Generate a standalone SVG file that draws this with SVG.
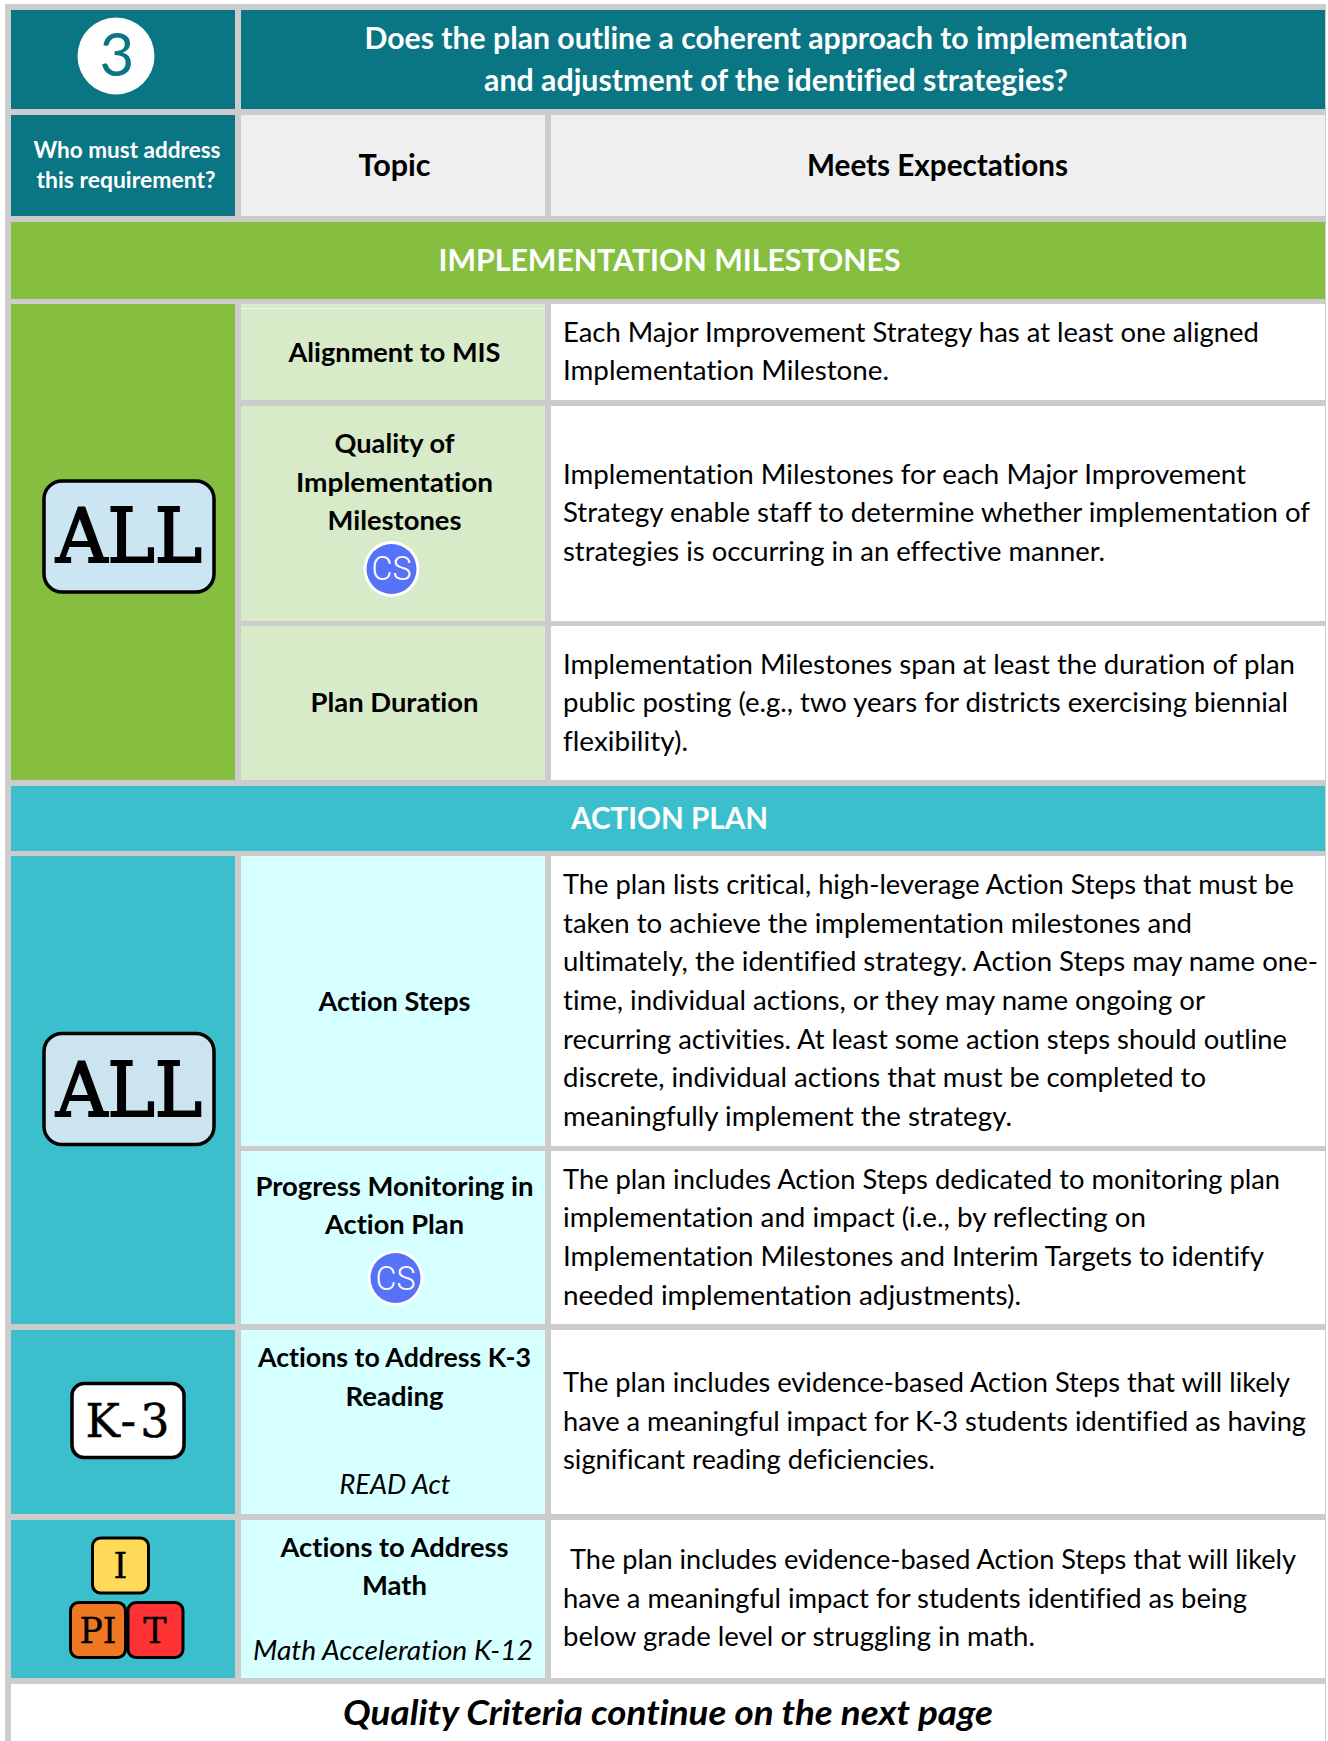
<svg xmlns="http://www.w3.org/2000/svg" width="1328" height="1741" viewBox="0 0 1328 1741">
<style>
text{font-family:"Lato","Liberation Sans",sans-serif;font-variant-ligatures:none;}
.b{font-size:27px;fill:#000}
.h{font-weight:700;text-anchor:middle;fill:#000;font-size:27px}
.w{font-weight:700;text-anchor:middle;fill:#fff}
.i{font-style:italic;text-anchor:middle;font-size:27px;fill:#000}
.s{font-family:"DejaVu Serif","Liberation Serif",serif;text-anchor:middle;fill:#000;stroke:#000}
.tag{stroke:#000;stroke-width:3}
.cs{font-family:"Roboto",sans-serif;fill:#fff;text-anchor:middle;font-size:33px}
</style>
<rect width="1328" height="1741" fill="#fff"/>
<rect x="5" y="4" width="1321" height="1737" fill="#cccccc"/>
<g id="header">
<rect x="11" y="10" width="224" height="99" fill="#0a7583"/>
<rect x="241" y="10" width="1084" height="99" fill="#0a7583"/>
<ellipse cx="116" cy="56" rx="38.500" ry="38.500" fill="#fff"/>
<text x="117" y="76" text-anchor="middle" style="font-size:60px;fill:#0a7583">3</text>
<text class="w" x="776" y="49" style="font-size:30px" textLength="823" lengthAdjust="spacingAndGlyphs">Does the plan outline a coherent approach to implementation</text>
<text class="w" x="776" y="91" style="font-size:30px" textLength="584" lengthAdjust="spacingAndGlyphs">and adjustment of the identified strategies?</text>
</g>
<g id="columns">
<rect x="11" y="115" width="224" height="101" fill="#0a7583"/>
<rect x="241" y="115" width="304" height="101" fill="#efefef"/>
<rect x="551" y="115" width="774" height="101" fill="#efefef"/>
<text class="w" x="127" y="158" style="font-size:22px" textLength="187" lengthAdjust="spacingAndGlyphs">Who must address</text>
<text class="w" x="126" y="188" style="font-size:22px" textLength="179" lengthAdjust="spacingAndGlyphs">this requirement?</text>
<text class="h" x="394.500" y="176" style="font-size:30px" textLength="72" lengthAdjust="spacingAndGlyphs">Topic</text>
<text class="h" x="937.500" y="176" style="font-size:30px" textLength="261" lengthAdjust="spacingAndGlyphs">Meets Expectations</text>
</g>
<g id="band-milestones">
<rect x="11" y="222" width="1314" height="77" fill="#86bf40"/>
<text class="w" x="669.500" y="271" style="font-size:30px" textLength="462" lengthAdjust="spacingAndGlyphs">IMPLEMENTATION MILESTONES</text>
</g>
<g id="who-all-1">
<rect x="11" y="304" width="224" height="476" fill="#86bf40"/>
<rect x="44" y="481" width="170" height="111" rx="18" fill="#cce5f2" stroke="#000" stroke-width="3.500"/>
<text class="s" x="129" y="562" style="font-size:74px;stroke-width:2" textLength="146" lengthAdjust="spacingAndGlyphs">ALL</text>
</g>
<g id="row-alignment">
<rect x="241" y="304" width="304" height="96" fill="#d8ebc9"/>
<rect x="241" y="308" width="304" height="1" fill="#eef7e6"/>
<rect x="551" y="304" width="774" height="96" fill="#fff"/>
<text class="h" x="394.500" y="361.500" textLength="212" lengthAdjust="spacingAndGlyphs">Alignment to MIS</text>
<text class="b" x="563" y="342" textLength="696" lengthAdjust="spacingAndGlyphs">Each Major Improvement Strategy has at least one aligned</text>
<text class="b" x="563" y="380" textLength="326" lengthAdjust="spacingAndGlyphs">Implementation Milestone.</text>
</g>
<g id="row-quality">
<rect x="241" y="406" width="304" height="215" fill="#d8ebc9"/>
<rect x="551" y="406" width="774" height="215" fill="#fff"/>
<text class="h" x="394.500" y="453" textLength="120" lengthAdjust="spacingAndGlyphs">Quality of</text>
<text class="h" x="394.500" y="491.500" textLength="197" lengthAdjust="spacingAndGlyphs">Implementation</text>
<text class="h" x="394.500" y="530" textLength="134" lengthAdjust="spacingAndGlyphs">Milestones</text>
<circle cx="391.500" cy="569" r="28" fill="#fff"/>
<circle cx="391.500" cy="569" r="25" fill="#5572f8"/>
<text class="cs" x="391.500" y="580" textLength="40" lengthAdjust="spacingAndGlyphs" style="font-weight:300">CS</text>
<text class="b" x="563" y="484" textLength="683" lengthAdjust="spacingAndGlyphs">Implementation Milestones for each Major Improvement</text>
<text class="b" x="563" y="522" textLength="747" lengthAdjust="spacingAndGlyphs">Strategy enable staff to determine whether implementation of</text>
<text class="b" x="563" y="561" textLength="542" lengthAdjust="spacingAndGlyphs">strategies is occurring in an effective manner.</text>
</g>
<g id="row-duration">
<rect x="241" y="626" width="304" height="154" fill="#d8ebc9"/>
<rect x="551" y="626" width="774" height="154" fill="#fff"/>
<text class="h" x="394.500" y="712" textLength="168" lengthAdjust="spacingAndGlyphs">Plan Duration</text>
<text class="b" x="563" y="674" textLength="732" lengthAdjust="spacingAndGlyphs">Implementation Milestones span at least the duration of plan</text>
<text class="b" x="563" y="712" textLength="725" lengthAdjust="spacingAndGlyphs">public posting (e.g., two years for districts exercising biennial</text>
<text class="b" x="563" y="751" textLength="125" lengthAdjust="spacingAndGlyphs">flexibility).</text>
</g>
<g id="band-action">
<rect x="11" y="786" width="1314" height="65" fill="#3cbfcc"/>
<text class="w" x="669.500" y="829" style="font-size:30px" textLength="197" lengthAdjust="spacingAndGlyphs">ACTION PLAN</text>
</g>
<g id="who-all-2">
<rect x="11" y="856" width="224" height="468" fill="#3cbfcc"/>
<rect x="44" y="1033.500" width="170" height="111" rx="18" fill="#cce3f0" stroke="#000" stroke-width="3.500"/>
<text class="s" x="129" y="1115.500" style="font-size:74px;stroke-width:2" textLength="146" lengthAdjust="spacingAndGlyphs">ALL</text>
</g>
<g id="row-steps">
<rect x="241" y="856" width="304" height="290" fill="#d6ffff"/>
<rect x="551" y="856" width="774" height="290" fill="#fff"/>
<text class="h" x="394.500" y="1010.500" textLength="152" lengthAdjust="spacingAndGlyphs">Action Steps</text>
<text class="b" x="563" y="894" textLength="731" lengthAdjust="spacingAndGlyphs">The plan lists critical, high-leverage Action Steps that must be</text>
<text class="b" x="563" y="933" textLength="629" lengthAdjust="spacingAndGlyphs">taken to achieve the implementation milestones and</text>
<text class="b" x="563" y="971" textLength="755" lengthAdjust="spacingAndGlyphs">ultimately, the identified strategy. Action Steps may name one-</text>
<text class="b" x="563" y="1010" textLength="642" lengthAdjust="spacingAndGlyphs">time, individual actions, or they may name ongoing or</text>
<text class="b" x="563" y="1049" textLength="724" lengthAdjust="spacingAndGlyphs">recurring activities. At least some action steps should outline</text>
<text class="b" x="563" y="1087" textLength="643" lengthAdjust="spacingAndGlyphs">discrete, individual actions that must be completed to</text>
<text class="b" x="563" y="1126" textLength="449" lengthAdjust="spacingAndGlyphs">meaningfully implement the strategy.</text>
</g>
<g id="row-progress">
<rect x="241" y="1151" width="304" height="173" fill="#d6ffff"/>
<rect x="551" y="1151" width="774" height="173" fill="#fff"/>
<text class="h" x="394.500" y="1195.500" textLength="278" lengthAdjust="spacingAndGlyphs">Progress Monitoring in</text>
<text class="h" x="394.500" y="1234" textLength="139" lengthAdjust="spacingAndGlyphs">Action Plan</text>
<circle cx="395.500" cy="1278" r="28" fill="#fff"/>
<circle cx="395.500" cy="1278" r="25" fill="#5572f8"/>
<text class="cs" x="395.500" y="1290" textLength="40" lengthAdjust="spacingAndGlyphs" style="font-weight:300">CS</text>
<text class="b" x="563" y="1189" textLength="717" lengthAdjust="spacingAndGlyphs">The plan includes Action Steps dedicated to monitoring plan</text>
<text class="b" x="563" y="1227" textLength="583" lengthAdjust="spacingAndGlyphs">implementation and impact (i.e., by reflecting on</text>
<text class="b" x="563" y="1266" textLength="701" lengthAdjust="spacingAndGlyphs">Implementation Milestones and Interim Targets to identify</text>
<text class="b" x="563" y="1305" textLength="458" lengthAdjust="spacingAndGlyphs">needed implementation adjustments).</text>
</g>
<g id="who-k3">
<rect x="11" y="1330" width="224" height="184" fill="#3cbfcc"/>
<rect x="72" y="1383.500" width="112" height="74" rx="12" fill="#fff" stroke="#000" stroke-width="3.500"/>
<text class="s" x="127.500" y="1437" style="font-size:46px;stroke-width:.5" textLength="84" lengthAdjust="spacing">K-3</text>
</g>
<g id="row-k3">
<rect x="241" y="1330" width="304" height="184" fill="#d6ffff"/>
<rect x="551" y="1330" width="774" height="184" fill="#fff"/>
<text class="h" x="394.500" y="1367" textLength="273" lengthAdjust="spacingAndGlyphs">Actions to Address K-3</text>
<text class="h" x="394.500" y="1406" textLength="98" lengthAdjust="spacingAndGlyphs">Reading</text>
<text class="i" x="395" y="1494" textLength="111" lengthAdjust="spacingAndGlyphs">READ Act</text>
<text class="b" x="563" y="1392" textLength="727" lengthAdjust="spacingAndGlyphs">The plan includes evidence-based Action Steps that will likely</text>
<text class="b" x="563" y="1431" textLength="743" lengthAdjust="spacingAndGlyphs">have a meaningful impact for K-3 students identified as having</text>
<text class="b" x="563" y="1469" textLength="372" lengthAdjust="spacingAndGlyphs">significant reading deficiencies.</text>
</g>
<g id="who-ipt">
<rect x="11" y="1520" width="224" height="158" fill="#3cbfcc"/>
<rect x="92.500" y="1538" width="56" height="55" rx="8" fill="#ffd958" class="tag"/>
<rect x="70.500" y="1602.500" width="55" height="55" rx="8" fill="#ee7722" class="tag"/>
<rect x="128" y="1602.500" width="55" height="55" rx="8" fill="#ff3333" class="tag"/>
<text class="s" x="120.500" y="1578" style="font-size:35px;stroke-width:.4">I</text>
<text class="s" x="98" y="1643" style="font-size:35px;stroke-width:.4" textLength="37" lengthAdjust="spacingAndGlyphs">PI</text>
<text class="s" x="155" y="1643" style="font-size:35px;stroke-width:.4">T</text>
</g>
<g id="row-math">
<rect x="241" y="1520" width="304" height="158" fill="#d6ffff"/>
<rect x="551" y="1520" width="774" height="158" fill="#fff"/>
<text class="h" x="394.500" y="1557" textLength="228" lengthAdjust="spacingAndGlyphs">Actions to Address</text>
<text class="h" x="394.500" y="1595" textLength="65" lengthAdjust="spacingAndGlyphs">Math</text>
<text class="i" x="393" y="1660" textLength="280" lengthAdjust="spacingAndGlyphs">Math Acceleration K-12</text>
<text class="b" x="570" y="1569" textLength="726" lengthAdjust="spacingAndGlyphs">The plan includes evidence-based Action Steps that will likely</text>
<text class="b" x="563" y="1608" textLength="684" lengthAdjust="spacingAndGlyphs">have a meaningful impact for students identified as being</text>
<text class="b" x="563" y="1646" textLength="472" lengthAdjust="spacingAndGlyphs">below grade level or struggling in math.</text>
</g>
<g id="footer">
<rect x="11" y="1684" width="1314" height="57" fill="#fff"/>
<text x="668" y="1725" text-anchor="middle" style="font-size:35px;font-weight:700;font-style:italic;fill:#000" textLength="650" lengthAdjust="spacingAndGlyphs">Quality Criteria continue on the next page</text>
</g>
</svg>
